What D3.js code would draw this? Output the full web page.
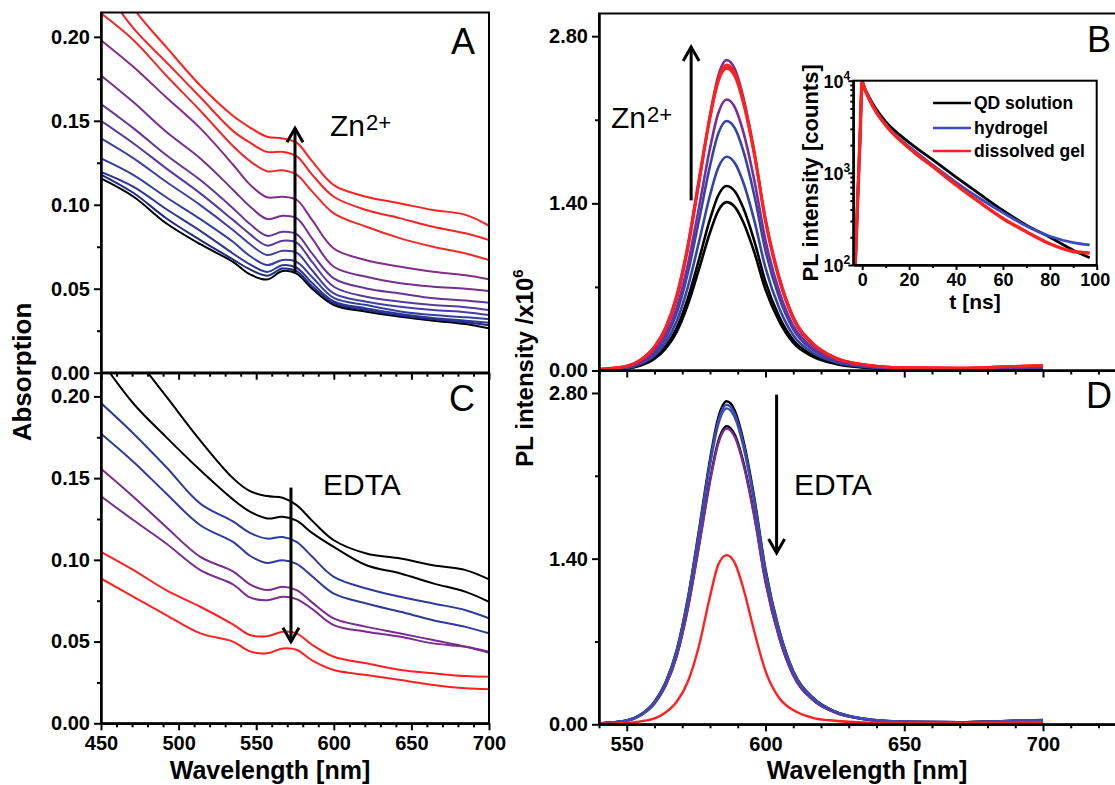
<!DOCTYPE html>
<html><head><meta charset="utf-8">
<script src="https://cdn.jsdelivr.net/npm/d3@7"></script>
<style>body{margin:0;background:#fff}svg{display:block}</style>
</head><body>
<svg id="c" width="1115" height="785"></svg>
<script>
// ---------------- DATA ----------------
const absWl = [450, 471, 492, 514, 535, 546, 557, 567, 576, 586, 600, 621, 643, 664, 685, 700];

// Panel A (Zn2+ titration), bottom (black) to top (red)
const absZnColors = ["#000000","#1e2a84","#2a3594","#333fa0","#3f3fa6","#553a9f","#663497","#753090","#842c8a","#ee2a2a","#f62424","#ff2020"];
const absZn = [
  [0.1157,0.1048,0.0890,0.0765,0.0660,0.0585,0.0555,0.0605,0.0590,0.0500,0.0403,0.0363,0.0333,0.0310,0.0290,0.0264],
  [0.1180,0.1070,0.0920,0.0790,0.0675,0.0615,0.0578,0.0620,0.0605,0.0515,0.0415,0.0373,0.0340,0.0318,0.0300,0.0282],
  [0.1196,0.1107,0.0975,0.0845,0.0710,0.0645,0.0600,0.0640,0.0625,0.0535,0.0425,0.0383,0.0350,0.0326,0.0310,0.0298],
  [0.1276,0.1177,0.1045,0.0915,0.0780,0.0695,0.0641,0.0671,0.0660,0.0570,0.0445,0.0403,0.0365,0.0343,0.0330,0.0318],
  [0.1395,0.1276,0.1137,0.0998,0.0850,0.0765,0.0701,0.0726,0.0715,0.0610,0.0472,0.0423,0.0393,0.0373,0.0360,0.0343],
  [0.1500,0.1365,0.1217,0.1068,0.0910,0.0825,0.0757,0.0786,0.0775,0.0660,0.0512,0.0452,0.0423,0.0403,0.0390,0.0373],
  [0.1600,0.1455,0.1296,0.1147,0.0980,0.0885,0.0815,0.0839,0.0825,0.0710,0.0562,0.0502,0.0472,0.0443,0.0430,0.0417],
  [0.1770,0.1610,0.1435,0.1276,0.1090,0.0990,0.0915,0.0935,0.0920,0.0800,0.0631,0.0571,0.0532,0.0512,0.0500,0.0486],
  [0.1980,0.1820,0.1640,0.1455,0.1240,0.1120,0.1045,0.1048,0.1030,0.0910,0.0740,0.0670,0.0631,0.0601,0.0580,0.0556],
  [0.2140,0.1980,0.1770,0.1560,0.1350,0.1260,0.1200,0.1205,0.1180,0.1080,0.0949,0.0869,0.0800,0.0750,0.0710,0.0671],
  [0.2320,0.2050,0.1850,0.1640,0.1440,0.1370,0.1315,0.1315,0.1290,0.1180,0.1048,0.0969,0.0919,0.0869,0.0830,0.0790],
  [0.2500,0.2170,0.1940,0.1710,0.1530,0.1460,0.1405,0.1395,0.1370,0.1260,0.1117,0.1048,0.1008,0.0969,0.0940,0.0875]
];

// Panel C (EDTA), top (black) to bottom (red)
const absEdtaColors = ["#000000","#000000","#2e3a9c","#2e3a9c","#7a2d8e","#7a2d8e","#ff2020","#ff2020"];
const absEdta = [
  [0.2450,0.2250,0.2000,0.1730,0.1500,0.1420,0.1390,0.1380,0.1335,0.1240,0.1120,0.1039,0.1008,0.0967,0.0937,0.0880],
  [0.2220,0.1955,0.1751,0.1548,0.1370,0.1295,0.1253,0.1263,0.1240,0.1165,0.1079,0.0967,0.0917,0.0856,0.0804,0.0743],
  [0.1959,0.1772,0.1568,0.1344,0.1235,0.1165,0.1130,0.1140,0.1110,0.1020,0.0896,0.0825,0.0774,0.0733,0.0692,0.0642],
  [0.1772,0.1599,0.1406,0.1212,0.1110,0.1025,0.0981,0.0998,0.0975,0.0900,0.0794,0.0733,0.0682,0.0631,0.0590,0.0550],
  [0.1558,0.1385,0.1201,0.1018,0.0930,0.0850,0.0815,0.0835,0.0815,0.0740,0.0642,0.0590,0.0550,0.0509,0.0468,0.0432],
  [0.1389,0.1242,0.1100,0.0937,0.0850,0.0770,0.0753,0.0774,0.0760,0.0700,0.0601,0.0560,0.0529,0.0489,0.0468,0.0438],
  [0.1049,0.0937,0.0815,0.0713,0.0605,0.0540,0.0533,0.0560,0.0550,0.0480,0.0407,0.0367,0.0326,0.0306,0.0289,0.0285],
  [0.0886,0.0774,0.0662,0.0550,0.0500,0.0440,0.0428,0.0458,0.0450,0.0385,0.0326,0.0295,0.0265,0.0234,0.0214,0.0208]
];

const plWl = [540,550,555,560,564,568,572,576,580,583,586,589,592,596,600,605,610,617,625,635,650,670,690,700];

// Panel B (PL, Zn2+ titration), drawn black -> red
const plZnColors = ["#000000","#000000","#3444a6","#3444a6","#7a2d92","#7a2d92","#ff2020","#ff2020","#ff2020"];
const plZn = [
  [0.004,0.017,0.042,0.099,0.183,0.324,0.550,0.846,1.156,1.340,1.410,1.368,1.241,0.987,0.677,0.409,0.233,0.117,0.056,0.025,0.012,0.010,0.016,0.018],
  [0.005,0.019,0.046,0.108,0.200,0.355,0.603,0.927,1.267,1.468,1.545,1.499,1.360,1.082,0.742,0.448,0.255,0.128,0.062,0.028,0.013,0.011,0.018,0.020],
  [0.005,0.021,0.054,0.125,0.233,0.412,0.698,1.074,1.468,1.700,1.790,1.736,1.575,1.253,0.859,0.519,0.295,0.149,0.072,0.032,0.015,0.012,0.020,0.022],
  [0.006,0.025,0.063,0.146,0.272,0.481,0.815,1.254,1.714,1.986,2.090,2.027,1.839,1.463,1.003,0.606,0.345,0.173,0.084,0.038,0.017,0.013,0.022,0.025],
  [0.007,0.027,0.068,0.159,0.295,0.522,0.885,1.362,1.861,2.157,2.270,2.202,1.998,1.589,1.090,0.658,0.375,0.188,0.091,0.041,0.018,0.014,0.024,0.028],
  [0.008,0.031,0.078,0.182,0.338,0.598,1.014,1.560,2.132,2.470,2.600,2.522,2.288,1.820,1.248,0.754,0.429,0.216,0.104,0.047,0.020,0.016,0.028,0.032],
  [0.012,0.038,0.090,0.200,0.360,0.630,1.050,1.600,2.140,2.450,2.560,2.490,2.270,1.830,1.270,0.780,0.450,0.230,0.110,0.052,0.024,0.020,0.036,0.042],
  [0.012,0.037,0.089,0.198,0.357,0.625,1.040,1.590,2.120,2.430,2.540,2.470,2.250,1.810,1.260,0.770,0.445,0.228,0.108,0.051,0.024,0.020,0.035,0.041],
  [0.011,0.036,0.088,0.196,0.354,0.620,1.035,1.580,2.110,2.420,2.530,2.460,2.240,1.800,1.250,0.765,0.440,0.226,0.107,0.050,0.023,0.020,0.036,0.043]
];

// Panel D (PL, EDTA)
const plEdtaColors = ["#000000","#000000","#7a2d92","#3a4cb0","#3a4cb0","#ff2020"];
const plEdta = [
  [0.008,0.033,0.082,0.191,0.355,0.628,1.065,1.638,2.239,2.594,2.730,2.648,2.402,1.911,1.310,0.792,0.450,0.227,0.109,0.049,0.022,0.018,0.030,0.035],
  [0.008,0.030,0.076,0.176,0.328,0.580,0.983,1.512,2.066,2.394,2.520,2.444,2.218,1.764,1.210,0.731,0.416,0.209,0.101,0.045,0.020,0.017,0.028,0.032],
  [0.007,0.030,0.075,0.175,0.325,0.575,0.975,1.500,2.050,2.375,2.500,2.425,2.200,1.750,1.200,0.725,0.413,0.208,0.100,0.045,0.020,0.017,0.028,0.032],
  [0.008,0.032,0.081,0.189,0.351,0.621,1.053,1.620,2.214,2.565,2.700,2.619,2.376,1.890,1.296,0.783,0.446,0.224,0.108,0.049,0.022,0.018,0.030,0.036],
  [0.008,0.032,0.080,0.187,0.347,0.614,1.041,1.602,2.189,2.537,2.670,2.590,2.350,1.869,1.282,0.774,0.441,0.222,0.107,0.048,0.022,0.018,0.030,0.036],
  [0.005,0.012,0.025,0.050,0.100,0.190,0.360,0.660,1.080,1.350,1.430,1.360,1.150,0.780,0.450,0.220,0.120,0.055,0.030,0.015,0.010,0.010,0.015,0.018]
];

// Inset: PL decay
const decayT = [-4,-3,-2,-1,0,1,3,6,10,16,22,30,40,50,60,70,80,90,97];
const decayNames = ["QD solution","hydrogel","dissolved gel"];
const decayColors = ["#000000","#3b4cc0","#ff2020"];
const decayQD  = [60,100,470,2150,9700,8300,6600,4900,3600,2580,1950,1390,900,590,390,270,200,145,120];
const decayGel = [60,100,470,2150,9700,8200,6400,4600,3350,2350,1750,1220,790,530,370,265,205,175,165];
const decayDis = [60,100,470,2150,9700,8200,6300,4550,3300,2280,1680,1175,740,480,320,230,170,140,135];

// Ticks
const absYTicks = [0, 0.05, 0.10, 0.15, 0.20];
const absYMinor = [0.025, 0.075, 0.125, 0.175];
const absXTicks = [450, 500, 550, 600, 650, 700];
const plYTicks = [0, 1.40, 2.80];
const plYMinor = [0.70, 2.10];
const plXTicks = [550, 600, 650, 700];
const inXTicks = [0, 20, 40, 60, 80, 100];
const inXMinor = [10, 30, 50, 70, 90];
const inYTicks = [100, 1000, 10000];
const inYExp = ["2", "3", "4"];

// ---------------- DRAW ----------------
const FONT = '"Liberation Sans", Arial, Helvetica, sans-serif';
const svg = d3.select('#c');

const xAbs = d3.scaleLinear().domain([450, 700]).range([101, 489]);
const yA = d3.scaleLinear().domain([0, 0.2145]).range([372.7, 12.5]);
const yC = d3.scaleLinear().domain([0, 0.2145]).range([723.3, 372.7]);
const xPL = d3.scaleLinear().domain([540, 730]).range([599, 599 + 190 * 2.775]);
const yB = d3.scaleLinear().domain([0, 2.99]).range([370.5, 13.5]);
const yD = d3.scaleLinear().domain([0, 2.99]).range([724.3, 370.5]);
const xIn = d3.scaleLinear().domain([-3.8, 100]).range([853.3, 1096.7]);
const yIn = d3.scaleLog().domain([100, 10000]).range([265, 80.7]);

const defs = svg.append('defs');
let clipId = 0;
function clipRect(x0, x1, y0, y1) {
  const id = 'clip' + (clipId++);
  defs.append('clipPath').attr('id', id).append('rect')
    .attr('x', x0).attr('y', y0).attr('width', x1 - x0).attr('height', y1 - y0);
  return 'url(#' + id + ')';
}

function drawSeries(xs, ys, wl, series, colors, width, curve) {
  const [x0, x1] = xs.range(); const [y1, y0] = ys.range();
  const g = svg.append('g').attr('clip-path', clipRect(x0, x1, y0, y1));
  const line = d3.line().x((d, i) => xs(wl[i])).y(d => ys(d)).curve(curve);
  series.forEach((s, i) => {
    g.append('path').attr('d', line(s)).attr('fill', 'none')
      .attr('stroke', colors[i]).attr('stroke-width', width).attr('stroke-linejoin', 'round');
  });
}

function styleAxis(g, size) {
  g.attr('font-family', FONT).attr('font-weight', 'bold').attr('font-size', size || 20);
  g.select('.domain').attr('stroke-width', 2).attr('stroke', '#000');
  g.selectAll('.tick line').attr('stroke-width', 2).attr('stroke', '#000');
  g.selectAll('.tick text').attr('fill', '#000');
}

function frame(xs, ys) {
  const [x0, x1] = xs.range(); const [y1, y0] = ys.range();
  svg.append('rect').attr('x', x0).attr('y', y0).attr('width', x1 - x0).attr('height', y1 - y0)
    .attr('fill', 'none').attr('stroke', '#000').attr('stroke-width', 2);
}

function axes(xs, ys, yMaj, yMin, yFmt, xMaj, xMinStep, xLabels) {
  const [x0] = xs.range(); const [yb] = ys.range();
  const gy = svg.append('g').attr('transform', `translate(${x0},0)`)
    .call(d3.axisLeft(ys).tickValues(yMaj).tickFormat(yFmt).tickSize(7).tickSizeOuter(0).tickPadding(4));
  styleAxis(gy);
  const gym = svg.append('g').attr('transform', `translate(${x0},0)`)
    .call(d3.axisLeft(ys).tickValues(yMin).tickFormat('').tickSize(4).tickSizeOuter(0));
  styleAxis(gym);
  const d = xs.domain();
  const minors = d3.range(Math.ceil(d[0] / xMinStep) * xMinStep, d[1] + 0.001, xMinStep).filter(v => !xMaj.includes(v));
  const gx = svg.append('g').attr('transform', `translate(0,${yb})`)
    .call(d3.axisBottom(xs).tickValues(xMaj).tickFormat(xLabels ? d3.format('d') : '').tickSize(7).tickSizeOuter(0).tickPadding(6));
  styleAxis(gx);
  const gxm = svg.append('g').attr('transform', `translate(0,${yb})`)
    .call(d3.axisBottom(xs).tickValues(minors).tickFormat('').tickSize(4).tickSizeOuter(0));
  styleAxis(gxm);
}

// Curves
const smooth = d3.curveCatmullRom.alpha(0.5);
drawSeries(xAbs, yA, absWl, absZn, absZnColors, 2, smooth);
drawSeries(xAbs, yC, absWl, absEdta, absEdtaColors, 2, smooth);
drawSeries(xPL, yB, plWl, plZn, plZnColors, 2.6, d3.curveMonotoneX);
drawSeries(xPL, yD, plWl, plEdta, plEdtaColors, 2.4, d3.curveMonotoneX);

// Frames and axes
frame(xAbs, yA); frame(xAbs, yC); frame(xPL, yB); frame(xPL, yD);
const f2 = d3.format('.2f');
axes(xAbs, yA, absYTicks, absYMinor, f2, absXTicks, 10, false);
axes(xAbs, yC, absYTicks, absYMinor, f2, absXTicks, 10, true);
axes(xPL, yB, plYTicks, plYMinor, f2, plXTicks.concat([750]), 10, false);
axes(xPL, yD, plYTicks, plYMinor, f2, plXTicks, 10, true);

// Panel letters
const letters = [["A", 451, 53.5], ["B", 1087, 52], ["C", 449, 410.5], ["D", 1086, 408]];
letters.forEach(([t, x, y]) => svg.append('text').attr('x', x).attr('y', y).text(t)
  .attr('font-family', FONT).attr('font-size', 36).attr('fill', '#000'));

// Arrows
function arrow(xs, ys, wl, from, to) {
  const x = xs(wl), ya = ys(from), yb = ys(to);
  const dir = yb < ya ? 1 : -1;
  svg.append('line').attr('x1', x).attr('x2', x).attr('y1', ya).attr('y2', yb)
    .attr('stroke', '#000').attr('stroke-width', 3);
  svg.append('path').attr('d', `M${x - 8},${yb + dir * 14}L${x},${yb}L${x + 8},${yb + dir * 14}`)
    .attr('fill', 'none').attr('stroke', '#000').attr('stroke-width', 3);
}
arrow(xAbs, yA, 575, 0.0595, 0.1455);
arrow(xAbs, yC, 572.4, 0.1442, 0.0499);
arrow(xPL, yB, 573.2, 1.425, 2.71);
arrow(xPL, yD, 604, 2.786, 1.447);

function znLabel(x, y) {
  const t = svg.append('text').attr('x', x).attr('y', y).attr('font-family', FONT)
    .attr('font-size', 30).attr('fill', '#000');
  t.append('tspan').text('Zn');
  t.append('tspan').text('2+').attr('font-size', 22).attr('dy', -6).attr('dx', 1);
}
znLabel(330, 136);
znLabel(611, 128);
[[323, 495], [794, 495]].forEach(([x, y]) => svg.append('text').attr('x', x).attr('y', y)
  .text('EDTA').attr('font-family', FONT).attr('font-size', 30).attr('fill', '#000'));

// Axis titles
svg.append('text').attr('transform', 'translate(31,372) rotate(-90)').attr('text-anchor', 'middle')
  .attr('font-family', FONT).attr('font-weight', 'bold').attr('font-size', 26).text('Absorption');
const plt = svg.append('text').attr('transform', 'translate(533,368) rotate(-90)').attr('text-anchor', 'middle')
  .attr('font-family', FONT).attr('font-weight', 'bold').attr('font-size', 24);
plt.append('tspan').text('PL intensity /x10');
plt.append('tspan').text('6').attr('font-size', 15).attr('dy', -10);
[[270, 779], [867, 779]].forEach(([x, y]) => svg.append('text').attr('x', x).attr('y', y)
  .attr('text-anchor', 'middle').attr('font-family', FONT).attr('font-weight', 'bold')
  .attr('font-size', 25).text('Wavelength [nm]'));

// ---------------- INSET ----------------
const [ix0, ix1] = xIn.range(); const [iy1, iy0] = yIn.range();
svg.append('rect').attr('x', ix0).attr('y', iy0).attr('width', ix1 - ix0).attr('height', iy1 - iy0).attr('fill', '#fff');
const ig = svg.append('g').attr('clip-path', clipRect(ix0, ix1, iy0, iy1));
const decayLine = d3.line().x((d, i) => xIn(decayT[i])).y(d => yIn(d)).curve(d3.curveMonotoneX);
[decayQD, decayGel, decayDis].forEach((s, i) => {
  ig.append('path').attr('d', decayLine(s)).attr('fill', 'none').attr('stroke', decayColors[i])
    .attr('stroke-width', i === 2 ? 3.4 : 2.8);
});
svg.append('rect').attr('x', ix0).attr('y', iy0).attr('width', ix1 - ix0).attr('height', iy1 - iy0)
  .attr('fill', 'none').attr('stroke', '#000').attr('stroke-width', 2);
const igx = svg.append('g').attr('transform', `translate(0,${iy1})`)
  .call(d3.axisBottom(xIn).tickValues(inXTicks).tickFormat(d3.format('d')).tickSize(5).tickSizeOuter(0).tickPadding(3));
styleAxis(igx, 18);
igx.selectAll('.tick text').filter(d => d === 100).attr('dx', -2);
const igxm = svg.append('g').attr('transform', `translate(0,${iy1})`)
  .call(d3.axisBottom(xIn).tickValues(inXMinor).tickFormat('').tickSize(3).tickSizeOuter(0));
styleAxis(igxm);
const logMinor = [];
[100, 1000].forEach(b => { for (let k = 2; k <= 9; k++) logMinor.push(b * k); });
const igy = svg.append('g').attr('transform', `translate(${ix0},0)`)
  .call(d3.axisLeft(yIn).tickValues(logMinor).tickFormat('').tickSize(3).tickSizeOuter(0));
styleAxis(igy);
const igy2 = svg.append('g').attr('transform', `translate(${ix0},0)`)
  .call(d3.axisLeft(yIn).tickValues(inYTicks).tickFormat('').tickSize(5).tickSizeOuter(0));
styleAxis(igy2);
inYTicks.forEach((v, i) => {
  const t = svg.append('text').attr('x', ix0 - 3).attr('y', yIn(v) + 7).attr('text-anchor', 'end')
    .attr('font-family', FONT).attr('font-weight', 'bold').attr('font-size', 18);
  t.append('tspan').text('10');
  t.append('tspan').text(inYExp[i]).attr('font-size', 12).attr('dy', -8);
});
svg.append('text').attr('transform', `translate(818,${(iy0 + iy1) / 2}) rotate(-90)`).attr('text-anchor', 'middle')
  .attr('font-family', FONT).attr('font-weight', 'bold').attr('font-size', 22).text('PL intensity [counts]');
svg.append('text').attr('x', (ix0 + ix1) / 2).attr('y', 309).attr('text-anchor', 'middle')
  .attr('font-family', FONT).attr('font-weight', 'bold').attr('font-size', 21).text('t [ns]');
// Legend
const legY = [103, 128, 151];
decayNames.forEach((n, i) => {
  svg.append('line').attr('x1', 933).attr('x2', 971).attr('y1', legY[i]).attr('y2', legY[i])
    .attr('stroke', decayColors[i]).attr('stroke-width', 2.5);
  svg.append('text').attr('x', 974).attr('y', legY[i]).attr('dy', '0.36em').text(n)
    .attr('font-family', FONT).attr('font-weight', 'bold').attr('font-size', 17.5);
});
</script>
</body></html>
